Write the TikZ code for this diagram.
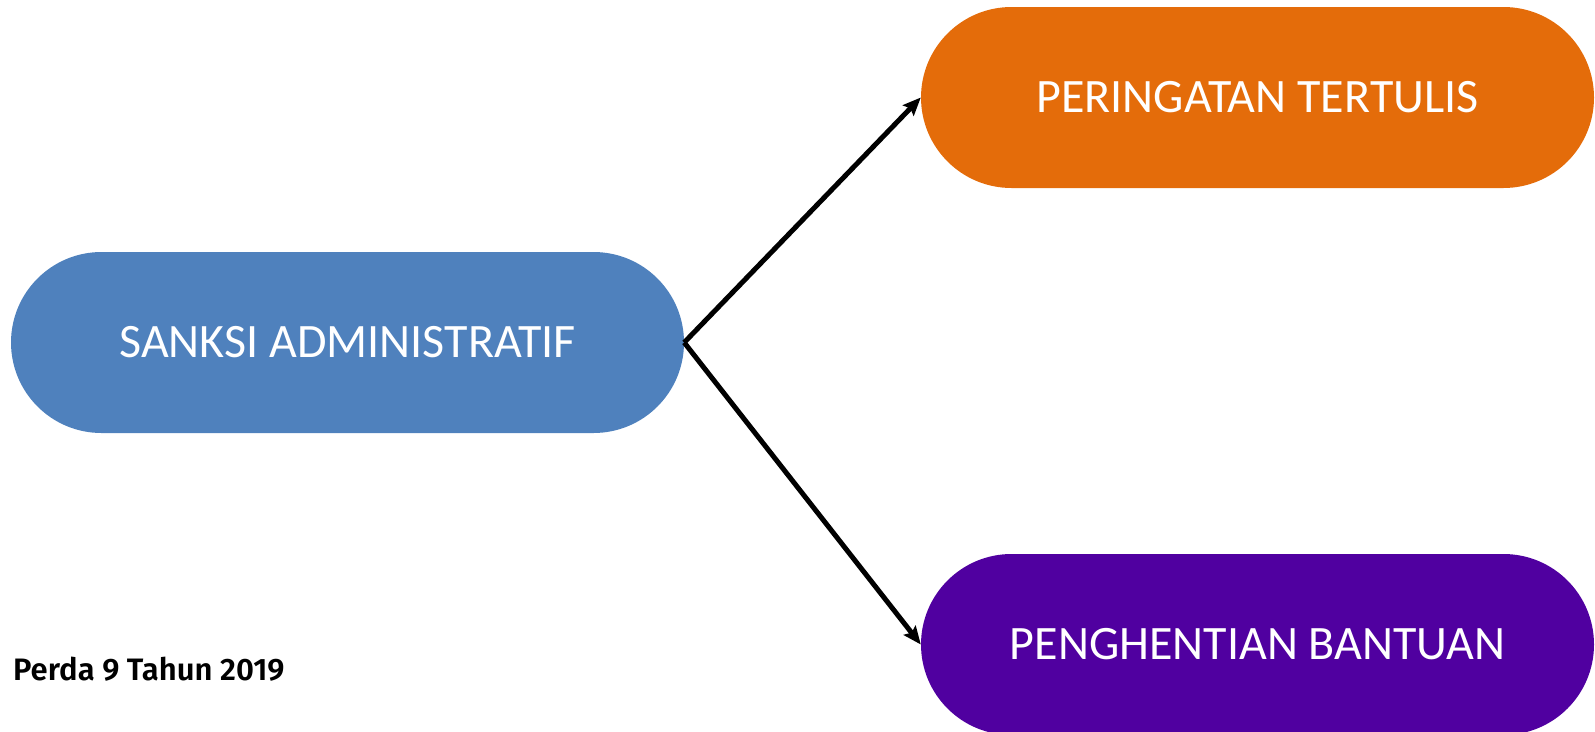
\documentclass[tikz,border=0pt]{standalone}
\usepackage{fontspec}
\setmainfont{Carlito}
\newfontfamily\notefont{Fira Sans SemiBold}
\usetikzlibrary{shapes.misc,arrows.meta}
\definecolor{pillblue}{RGB}{79,129,189}
\definecolor{pillorange}{RGB}{228,108,10}
\definecolor{pillpurple}{RGB}{80,0,160}
\tikzset{
  pill/.style={rounded rectangle, minimum width=673pt, minimum height=181pt,
    inner sep=0pt, text=white, font=\fontsize{48}{56}\selectfont},
  conn/.style={line width=5pt, -{Stealth[length=18pt,width=15pt,inset=3pt]}}
}
\begin{document}
\begin{tikzpicture}[x=1pt,y=-1pt]
\useasboundingbox (0,0) rectangle (1595,731);
\node[pill, fill=pillblue] (sanksi) at (347.5,342.5) {SANKSI ADMINISTRATIF};
\node[pill, fill=pillorange] (peringatan) at (1257.5,97.5) {PERINGATAN TERTULIS};
\node[pill, fill=pillpurple] (penghentian) at (1257.5,644.5) {PENGHENTIAN BANTUAN};
\draw[conn] (sanksi.east) -- (peringatan.west);
\draw[conn] (sanksi.east) -- (penghentian.west);
\node[anchor=base west, inner sep=0pt, font=\notefont\fontsize{31}{36}\selectfont] (perda) at (13,680) {Perda 9 Tahun 2019};
\end{tikzpicture}
\end{document}
